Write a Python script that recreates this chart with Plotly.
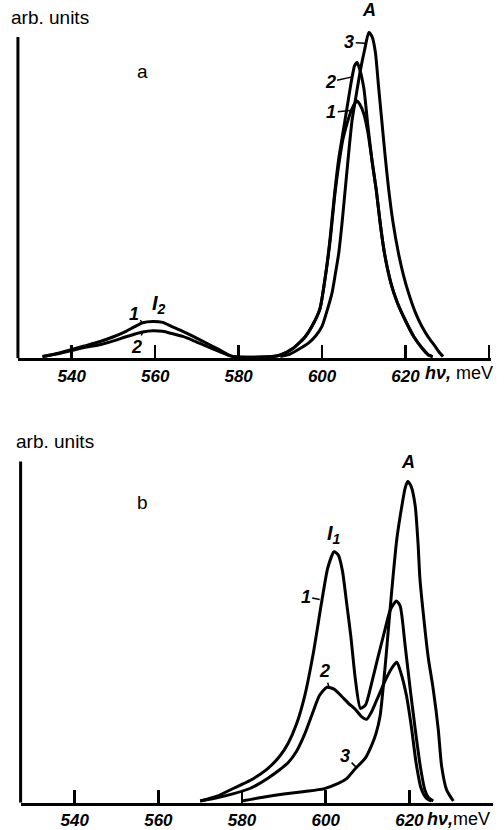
import plotly.graph_objects as go

# ---------------- data ----------------
# panel a
a1_x = [533, 536, 540, 543, 547, 550, 553, 555, 557, 559.4, 561.8, 564, 566.6, 569, 572, 575, 578.6,
        588, 590, 593, 596, 598, 599.5, 601, 602, 603, 604, 605, 606, 607, 608, 608.4, 609, 610, 611,
        612, 613, 614, 615, 616.5, 618, 620, 622, 624, 625.5, 626.5]
a1_y = [0, 0.8, 2.2, 3.3, 4.8, 6.2, 7.9, 9.3, 10.6, 11, 10.7, 9.4, 7.9, 6.4, 4.4, 2.4, 0,
        0, 0.5, 2.5, 6.3, 10.5, 15, 27, 37, 50, 60, 68, 73, 77, 79.5, 80, 79, 76, 70,
        61, 52, 41, 32, 23, 17, 11.2, 6.2, 2.6, 0.5, 0]

a2_x = [533, 536, 540, 543, 547, 550, 553, 555, 557, 559.4, 561.8, 564, 566.6, 569, 572, 575, 578.6,
        588, 590, 593, 596, 598, 599.5, 601, 602, 603, 604, 605, 606, 607, 607.8, 608.4, 609, 610, 611,
        612, 613, 614, 615, 616.5, 618, 620, 622, 624, 625.5, 626.5]
a2_y = [0, 0.7, 1.9, 2.8, 3.8, 4.9, 6.2, 7, 7.7, 8.1, 7.9, 7.2, 6.3, 5.1, 3.4, 1.8, 0,
        0, 0.5, 2.5, 6.3, 10.5, 15, 27, 38, 51, 62, 70, 78, 86, 91, 92, 90, 84, 72,
        61, 52, 41, 32, 23, 17, 11.2, 6.2, 2.6, 0.5, 0]

a3_x = [590, 592, 594, 596.8, 598.5, 600, 601, 602.4, 603.2, 604, 604.8, 605.6, 606.4, 607.2, 608.2,
        609.2, 610.2, 611.2, 612, 612.8, 613.5, 614.3, 615.1, 615.9, 617, 618.3, 619.5, 620.7, 622.3,
        623.9, 625.5, 627.1, 628, 629]
a3_y = [0, 0.6, 2, 4.3, 6.5, 9.5, 13.5, 20, 26, 32.4, 42, 53, 64, 74, 82,
        89.7, 96, 101.4, 100, 95, 85, 74, 63, 53, 42, 32.4, 25.5, 20, 14,
        9.5, 6, 3.2, 1.5, 0]

# panel b
b1_x = [570, 574, 578, 582, 586, 589, 591, 593, 595, 597, 599, 600.5, 602, 603, 604, 605, 606, 607.1,
        608.3, 609.5, 611, 612.5, 614.2, 615.5, 616.9, 617.8, 619, 620.2, 621.4, 622.6, 623.7,
        624.6, 625.7]
b1_y = [0, 1.5, 4, 6.5, 10, 14, 18, 24, 33, 46, 62, 73, 78, 77, 72, 62, 51.6, 38,
        29, 30, 37, 45, 53.8, 60, 62.6, 61, 48.5, 35, 22.5, 11, 3.5,
        1, 0]

b2_x = [570, 574, 578, 582, 586, 589, 591, 593, 595, 597, 598.5, 600.3, 602, 603.8, 605.5, 607, 608.5,
        609.8, 611, 612, 613, 614.5, 616, 617, 618, 619.3, 620.5, 621.6, 622.8, 624, 625.3]
b2_y = [0, 1, 2.3, 4, 7, 9.8, 12, 15.5, 21, 28, 33, 35.6, 35, 32.8, 30.5, 28.8, 26.5,
        25.6, 28, 31, 34, 38.5, 42, 43.4, 40, 33, 23, 12, 4, 1, 0]

b3_x = [580, 585, 590, 595, 599.5, 603, 605, 607, 609.5, 611, 612, 613, 614.2, 615, 615.8, 617, 618.2,
        619, 619.6, 620.4, 621.4, 622.1, 622.5, 623.3, 624.5, 625.7, 626.9, 627.7, 628.9, 630.5]
b3_y = [0, 1.2, 2.2, 3, 3.8, 5.5, 7, 10, 13.5, 17.5, 21, 26.6, 42, 54, 66, 82, 92.3,
        98, 100, 98.5, 92.3, 80, 70, 59, 45, 35, 22.5, 11, 3.5, 0]

tick_vals = [540, 560, 580, 600, 620, 640]
tick_text = ["540", "560", "580", "600", "620", " "]

# ---------------- figure ----------------
W, H = 504, 830
fig = go.Figure()

line = dict(color="black", width=3, shape="spline", smoothing=0.6)
for xs, ys in [(a1_x, a1_y), (a2_x, a2_y), (a3_x, a3_y)]:
    fig.add_trace(go.Scatter(x=xs, y=ys, mode="lines", line=line, xaxis="x", yaxis="y",
                             showlegend=False, hoverinfo="skip"))
for xs, ys in [(b1_x, b1_y), (b2_x, b2_y), (b3_x, b3_y)]:
    fig.add_trace(go.Scatter(x=xs, y=ys, mode="lines", line=line, xaxis="x2", yaxis="y2",
                             showlegend=False, hoverinfo="skip"))

tickfont = dict(family="Liberation Sans, Arial, sans-serif", size=17, color="black",
                weight="bold", style="italic")
xcommon = dict(visible=True, showline=True, linecolor="black", linewidth=3, ticks="inside",
               ticklen=13, tickwidth=2.5, tickcolor="black", tickvals=tick_vals,
               ticktext=tick_text, tickfont=tickfont, showgrid=False, zeroline=False,
               fixedrange=True, layer="above traces")
ycommon = dict(visible=True, showline=False, showticklabels=False, ticks="", showgrid=False,
               zeroline=False, fixedrange=True)

fig.update_layout(
    width=W, height=H, autosize=False,
    margin=dict(l=0, r=0, t=0, b=0),
    paper_bgcolor="white", plot_bgcolor="white",
    xaxis=dict(domain=[18 / W, 493 / W], range=[527.1, 640.5], anchor="y", **xcommon),
    yaxis=dict(domain=[1 - 358.6 / H, 1 - 21 / H], range=[-0.5, 105], anchor="x", **ycommon),
    xaxis2=dict(domain=[20.7 / W, 495 / W], range=[527.07, 640], anchor="y2", **xcommon),
    yaxis2=dict(domain=[1 - 803.6 / H, 1 - 456.4 / H], range=[-0.5, 108], anchor="x2",
                **ycommon),
)

# y spines
fig.add_shape(type="line", xref="x domain", yref="y", x0=0, x1=0, y0=-0.5, y1=100,
              line=dict(color="black", width=3))
fig.add_shape(type="line", xref="x2 domain", yref="y2", x0=0, x1=0, y0=-0.5, y1=106.25,
              line=dict(color="black", width=3))

plain = dict(family="Liberation Sans, Arial, sans-serif", size=19, color="black")
bi = dict(family="Liberation Sans, Arial, sans-serif", size=18, color="black",
          weight="bold", style="italic")


def ptext(x, y, text, font):
    fig.add_annotation(x=x / W, y=1 - y / H, xref="paper", yref="paper", text=text,
                       showarrow=False, font=font, xanchor="center", yanchor="middle")


# free texts
ptext(50, 18, "arb. units", plain)
ptext(55, 442, "arb. units", plain)
ptext(143, 72, "a", plain)
ptext(143, 503, "b", plain)
ptext(370, 10, "A", bi)
ptext(410, 463, "A", bi)
ptext(160, 305, "I<sub>2</sub>", dict(bi, size=20))
ptext(335, 535, "I<sub>1</sub>", dict(bi, size=20))
fig.add_annotation(x=425 / W, y=1 - 373 / H, xref="paper", yref="paper",
                   text="<b><i>hν,</i></b> meV", showarrow=False, xanchor="left", yanchor="middle",
                   font=dict(plain, size=18))
fig.add_annotation(x=427 / W, y=1 - 820 / H, xref="paper", yref="paper",
                   text="<b><i>hν,</i></b>meV", showarrow=False, xanchor="left", yanchor="middle",
                   font=dict(plain, size=18))


def curve_label(xr, yr, x, y, text, ax, ay):
    fig.add_annotation(x=x, y=y, xref=xr, yref=yr, text=text, showarrow=True, arrowhead=0,
                       arrowwidth=1.5, arrowcolor="black", ax=ax, ay=ay, standoff=1,
                       font=bi)


# panel a curve labels
curve_label("x", "y", 610.6, 98, "3", -17, -1)
curve_label("x", "y", 607.2, 87.5, "2", -22, 5)
curve_label("x", "y", 607.0, 77, "1", -20, 2)
curve_label("x", "y", 557, 10.6, "1", -9, -9)
curve_label("x", "y", 557, 7.7, "2", -6, 15)
# panel b curve labels
curve_label("x2", "y2", 598.8, 63, "1", -15, -3)
curve_label("x2", "y2", 600.8, 35.6, "2", -5, -16)
curve_label("x2", "y2", 607.5, 10.3, "3", -12, -12)

fig.write_html(
    "out.html",
    config={"displayModeBar": False, "staticPlot": True},
    post_script="document.body.style.margin='0';document.body.style.padding='0';"
                "document.body.style.overflow='hidden';"
                "document.documentElement.style.overflow='hidden';",
)
